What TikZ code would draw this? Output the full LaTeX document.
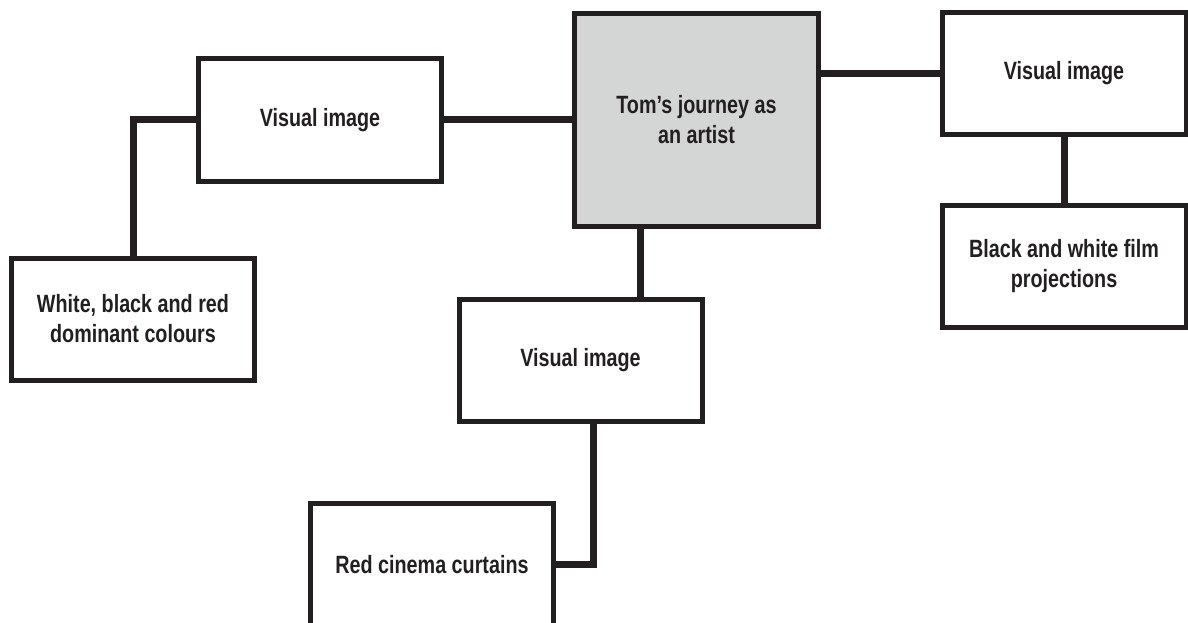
\documentclass[tikz,border=0pt]{standalone}
\usepackage{fontspec}
\setmainfont{Liberation Sans}[FakeStretch=0.79]
\definecolor{ink}{HTML}{231F20}
\definecolor{boxgray}{HTML}{D4D6D5}
\begin{document}
\begin{tikzpicture}[x=1pt,y=-1pt,
  box/.style={draw=ink, line width=5pt, fill=white, minimum width=243pt, minimum height=122pt,
    align=center, font=\fontsize{25}{30}\selectfont\bfseries, text=ink, inner sep=0pt},
  link/.style={draw=ink, line width=7pt}]
\useasboundingbox (0,0) rectangle (1188,623);
\node[box, fill=boxgray, minimum width=244pt, minimum height=213pt] (c) at (696.5,120) {Tom’s journey as\\an artist};
\node[box] (vl) at (320,120) {Visual image};
\node[box, minimum width=244pt] (vr) at (1064,73.5) {Visual image};
\node[box, minimum width=244pt] (bw) at (1064,266.5) {Black and white film\\projections};
\node[box] (wb) at (133,319) {White, black and red\\dominant colours};
\node[box] (vb) at (580.5,360.5) {Visual image};
\node[box] (red) at (432,564.5) {Red cinema curtains};
\draw[link] (vl.west) -| (wb.north);
\draw[link] (vl.east) -- (c.west);
\draw[link] (c.east |- vr.west) -- (vr.west);
\draw[link] (vr.south) -- (bw.north);
\path (vb.north) ++(59.5,0) coordinate (vbt);
\draw[link] (c.south -| vbt) -- (vbt);
\path (vb.south) ++(12.5,0) coordinate (vbb);
\draw[link] (vbb) |- (red.east);
\end{tikzpicture}
\end{document}
